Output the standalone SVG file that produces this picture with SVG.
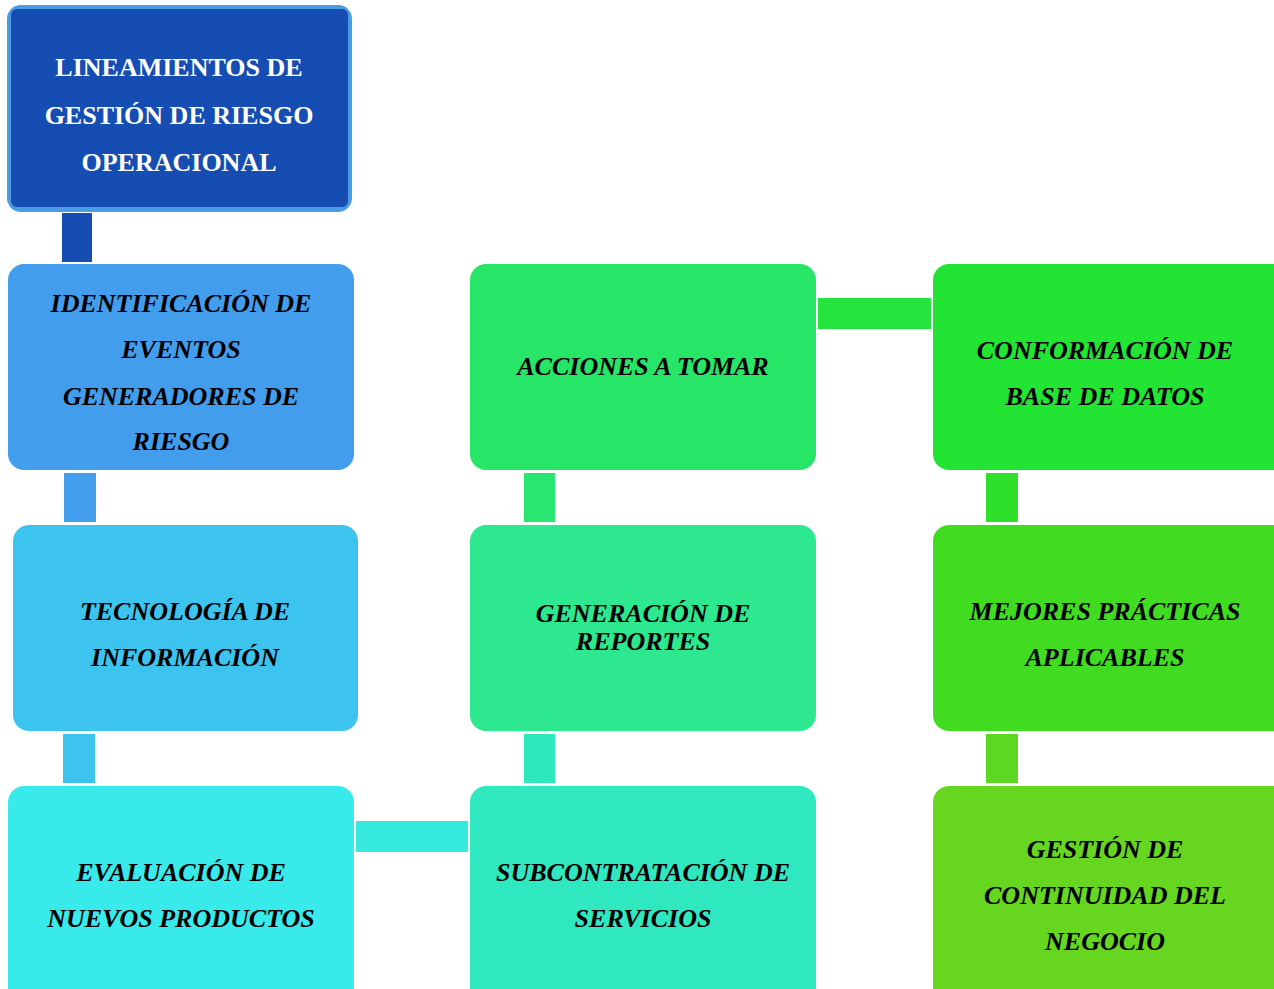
<svg xmlns="http://www.w3.org/2000/svg" width="1274" height="989" viewBox="0 0 1274 989">
<style>
.t{font-family:"Liberation Serif","Times New Roman",serif;font-size:26px;font-weight:bold;font-style:italic;fill:#000;text-anchor:middle}
.h{font-family:"Liberation Serif","Times New Roman",serif;font-size:26px;font-weight:bold;fill:#fff;text-anchor:middle}
</style>
<rect width="1274" height="989" fill="#fff"/>
<g id="connectors">
<rect x="62" y="213" width="30" height="49" fill="#164db2"/>
<rect x="64" y="473" width="32" height="49" fill="#439ded"/>
<rect x="63" y="734" width="32" height="49" fill="#3dc4ee"/>
<rect x="356" y="821" width="112" height="31" fill="#36e9df"/>
<rect x="524" y="734" width="31" height="49" fill="#2ee8bc"/>
<rect x="524" y="473" width="31" height="49" fill="#29e670"/>
<rect x="818" y="298" width="113" height="31" fill="#26e43e"/>
<rect x="986" y="473" width="32" height="49" fill="#2fe02a"/>
<rect x="986" y="734" width="32" height="49" fill="#5cd722"/>
</g>
<g id="n0">
<rect x="7" y="5" width="345" height="207" rx="14" fill="#4a9be6"/>
<rect x="11" y="9" width="337" height="198" rx="6" fill="#164db2"/>
<text class="h" x="179" y="76">LINEAMIENTOS DE</text>
<text class="h" x="179" y="124">GESTIÓN DE RIESGO</text>
<text class="h" x="179" y="171">OPERACIONAL</text>
</g>
<g id="n1">
<rect x="8" y="264" width="346" height="206" rx="16" fill="#439ded"/>
<text class="t" x="181" y="312">IDENTIFICACIÓN DE</text>
<text class="t" x="181" y="358">EVENTOS</text>
<text class="t" x="181" y="405">GENERADORES DE</text>
<text class="t" x="181" y="450">RIESGO</text>
</g>
<g id="n2">
<rect x="13" y="525" width="345" height="206" rx="16" fill="#3dc4ee"/>
<text class="t" x="185" y="620">TECNOLOGÍA DE</text>
<text class="t" x="185" y="666">INFORMACIÓN</text>
</g>
<g id="n3">
<rect x="8" y="786" width="346" height="220" rx="16" fill="#38eaea"/>
<text class="t" x="181" y="881">EVALUACIÓN DE</text>
<text class="t" x="181" y="927">NUEVOS PRODUCTOS</text>
</g>
<g id="n4">
<rect x="470" y="786" width="346" height="220" rx="16" fill="#2fe8c0"/>
<text class="t" x="643" y="881">SUBCONTRATACIÓN DE</text>
<text class="t" x="643" y="927">SERVICIOS</text>
</g>
<g id="n5">
<rect x="470" y="525" width="346" height="206" rx="16" fill="#2de88e"/>
<text class="t" x="643" y="622">GENERACIÓN DE</text>
<text class="t" x="643" y="650">REPORTES</text>
</g>
<g id="n6">
<rect x="470" y="264" width="346" height="206" rx="16" fill="#27e566"/>
<text class="t" x="643" y="375">ACCIONES A TOMAR</text>
</g>
<g id="n7">
<rect x="933" y="264" width="355" height="206" rx="16" fill="#22e433"/>
<text class="t" x="1105" y="359">CONFORMACIÓN DE</text>
<text class="t" x="1105" y="405">BASE DE DATOS</text>
</g>
<g id="n8">
<rect x="933" y="525" width="355" height="206" rx="16" fill="#41dc22"/>
<text class="t" x="1105" y="620">MEJORES PRÁCTICAS</text>
<text class="t" x="1105" y="666">APLICABLES</text>
</g>
<g id="n9">
<rect x="933" y="786" width="355" height="220" rx="16" fill="#66d620"/>
<text class="t" x="1105" y="858">GESTIÓN DE</text>
<text class="t" x="1105" y="904">CONTINUIDAD DEL</text>
<text class="t" x="1105" y="950">NEGOCIO</text>
</g>
</svg>
